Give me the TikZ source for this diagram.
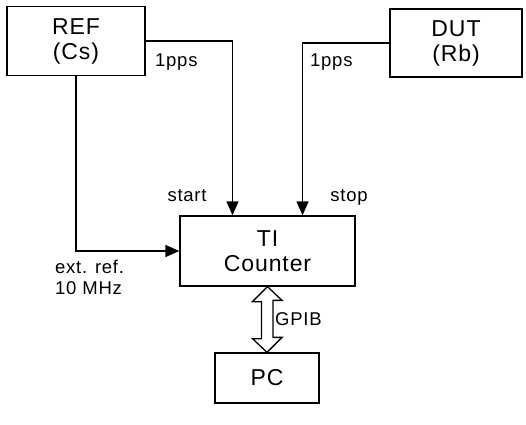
\documentclass[tikz,border=0pt]{standalone}
\usepackage{fontspec}
\setmainfont{Liberation Sans}[LetterSpace=4]
\usetikzlibrary{arrows.meta,calc}
\begin{document}
\begin{tikzpicture}[x=1pt,y=-1pt,
  box/.style={draw,line width=1.3pt,inner sep=0pt,align=center,font=\fontsize{23}{25}\selectfont},
  lbl/.style={inner sep=0pt,font=\fontsize{18.5}{21}\selectfont},
  arr/.style={line width=1.3pt,-{Triangle[length=14pt,width=12pt]}},
  wire/.style={line width=1.3pt}]
\useasboundingbox (0,0) rectangle (526,424);
\node[box,minimum width=138pt,minimum height=69pt] (ref) at (76,41) {REF\\(Cs)};
\node[box,minimum width=132pt,minimum height=68pt] (dut) at (456,43) {DUT\\(Rb)};
\node[box,minimum width=175pt,minimum height=70pt] (ctr) at (267.5,251) {TI\\Counter};
\node[box,minimum width=104pt,minimum height=50pt] (pc) at (267,378) {PC};
\draw[arr] (ref.east) -| ([xshift=-35pt]ctr.north);
\draw[arr] (dut.west) -| ([xshift=35pt]ctr.north);
\draw[arr] (ref.south) |- (ctr.west);
\draw[wire,line join=miter] (ctr.south) -- ++(-15,15) -- ++(9,0) -- ++(0,37) -- ++(-9,0)
  -- (pc.north) -- ++(15,-15) -- ++(-9,0) -- ++(0,-37) -- ++(9,0) -- cycle;
\node[lbl,anchor=west] (l1) at (155,62) {1pps};
\node[lbl,anchor=west] (l2) at (310,62) {1pps};
\node[lbl] (st) at (187,196) {start};
\node[lbl] (sp) at (349,197) {stop};
\node[lbl,anchor=west,align=left] (ext) at (55,277) {ext. ref.\\10 MHz};
\node[lbl,anchor=west] (gp) at (275,319) {GPIB};
\end{tikzpicture}
\end{document}
